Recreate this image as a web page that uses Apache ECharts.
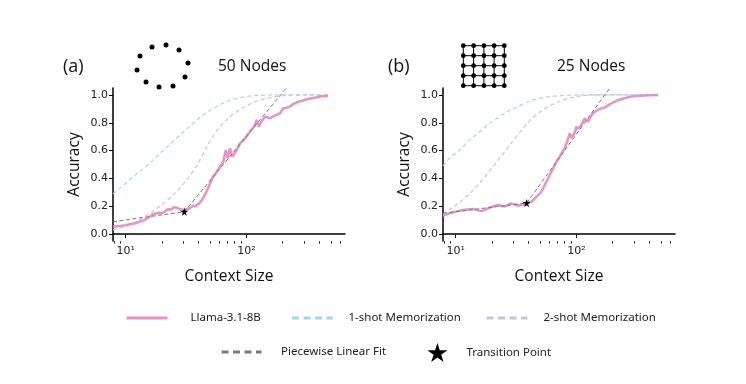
<!DOCTYPE html>
<html><head><meta charset="utf-8">
<script src="https://cdn.jsdelivr.net/npm/echarts@6/dist/echarts.min.js"></script>
<style>html,body{margin:0;padding:0;background:#fff}#c{width:746px;height:384px}</style>
</head><body><div id="c"></div>
<script>
// ---- tick labels ----
const xTickValues = [10, 100];
const xMinorTicks = [8, 9, 20, 30, 40, 50, 60, 70, 80, 90, 200, 300, 400, 500, 600];
const yTickValues = [0, 0.2, 0.4, 0.6, 0.8, 1.0];
const panelLetters = ['(a)', '(b)'];
const panelTitles = ['50 Nodes', '25 Nodes'];

// ---- panel (a): 50 nodes ----
const llamaA_x = [7.85, 8.9, 10, 10.8, 12, 13.1, 14, 14.8, 15.8, 16.8, 18, 19.1, 20, 21, 22.4, 23.2, 23.9, 24.7, 25.5, 26.3, 27.1, 28.5, 29.8, 31.2, 32.8, 34.5, 36.1, 37.8, 39.7, 41.7, 43.7, 45.8, 48.1, 50.4, 52.8, 55, 58, 60.4, 64.4, 67.4, 70, 73.1, 76.4, 79, 81.5, 85, 88.5, 93, 97.3, 102, 107, 111, 116, 121.6, 127, 131, 135.5, 142.6, 150, 157, 165, 172.7, 181, 190, 202.5, 212, 228.3, 240, 251, 268, 285.5, 305, 323.8, 345, 368, 392, 418, 445, 474];
const llamaA_y = [0.053, 0.058, 0.064, 0.07, 0.078, 0.089, 0.097, 0.108, 0.125, 0.142, 0.148, 0.153, 0.152, 0.16, 0.178, 0.172, 0.175, 0.19, 0.204, 0.19, 0.18, 0.178, 0.173, 0.176, 0.18, 0.19, 0.204, 0.2, 0.214, 0.232, 0.257, 0.29, 0.329, 0.37, 0.412, 0.43, 0.46, 0.484, 0.52, 0.604, 0.545, 0.617, 0.556, 0.575, 0.592, 0.62, 0.652, 0.67, 0.688, 0.71, 0.736, 0.755, 0.772, 0.82, 0.772, 0.8, 0.813, 0.844, 0.838, 0.832, 0.845, 0.851, 0.86, 0.868, 0.904, 0.905, 0.916, 0.93, 0.94, 0.95, 0.957, 0.965, 0.971, 0.976, 0.98, 0.985, 0.99, 0.991, 0.993];
const mem1A_x = [7.85, 9, 10.8, 13.1, 15.8, 19.2, 23.2, 28.1, 33.9, 41.3, 49.7, 60.4, 72.8, 88.4, 105, 130, 170, 474];
const mem1A_y = [0.29, 0.33, 0.39, 0.45, 0.51, 0.578, 0.645, 0.712, 0.775, 0.838, 0.888, 0.93, 0.96, 0.98, 0.991, 0.997, 1.0, 1.0];
const mem2A_x = [7.85, 10, 12, 14, 16, 19.2, 24.8, 28, 32, 38.7, 46.9, 56.7, 68.7, 83.2, 100.5, 117, 142, 171, 207, 303, 474];
const mem2A_y = [0.03, 0.055, 0.085, 0.118, 0.15, 0.2, 0.28, 0.33, 0.39, 0.49, 0.625, 0.74, 0.822, 0.88, 0.922, 0.95, 0.972, 0.986, 0.995, 1.0, 1.0];
const fitA_x = [7.85, 30.6, 214];
const fitA_y = [0.089, 0.16, 1.05];
const transA_x = [30.6];
const transA_y = [0.16];

// ---- panel (b): 25 nodes ----
const llamaB_x = [7.85, 8.6, 9.5, 10.5, 11.5, 12.6, 13.9, 15, 16.3, 17.6, 19.1, 20.7, 22.4, 24, 25.5, 27.2, 28.9, 30.8, 32.8, 35, 37.3, 40, 42.4, 44.5, 46.6, 49, 51.3, 53.8, 56.4, 59.2, 62.1, 65.2, 68.3, 72.8, 76, 80, 84, 88, 91, 93.7, 97, 100, 103, 106.5, 111, 117.1, 121, 124.8, 130, 137.3, 146, 156, 163, 171.5, 183, 195, 215, 236, 260, 285.5, 315, 346, 400, 474];
const llamaB_y = [0.132, 0.145, 0.156, 0.165, 0.173, 0.177, 0.18, 0.172, 0.165, 0.176, 0.189, 0.2, 0.209, 0.202, 0.197, 0.21, 0.221, 0.212, 0.204, 0.21, 0.214, 0.225, 0.232, 0.25, 0.268, 0.285, 0.304, 0.34, 0.376, 0.412, 0.448, 0.485, 0.52, 0.556, 0.585, 0.617, 0.665, 0.724, 0.69, 0.688, 0.73, 0.772, 0.755, 0.748, 0.79, 0.832, 0.82, 0.808, 0.84, 0.868, 0.885, 0.899, 0.905, 0.909, 0.925, 0.94, 0.958, 0.971, 0.98, 0.988, 0.992, 0.995, 0.998, 1.0];
const mem1B_x = [7.85, 9, 10.8, 13, 15.8, 19, 23.2, 28, 33.9, 41, 49.7, 60, 72.8, 100, 474];
const mem1B_y = [0.49, 0.55, 0.604, 0.675, 0.736, 0.795, 0.844, 0.89, 0.923, 0.955, 0.976, 0.988, 0.995, 1.0, 1.0];
const mem2B_x = [7.85, 9.2, 10.8, 13, 15.8, 19, 23.2, 28, 33.9, 41, 49.7, 60, 72.8, 96.5, 120, 150, 474];
const mem2B_y = [0.142, 0.185, 0.228, 0.29, 0.368, 0.452, 0.545, 0.638, 0.73, 0.815, 0.877, 0.922, 0.955, 0.985, 0.997, 1.0, 1.0];
const fitB_x = [7.85, 38.7, 189];
const fitB_y = [0.15, 0.223, 1.05];
const transB_x = [38.7];
const transB_y = [0.223];

const zip = (xs, ys) => xs.map((x, i) => [x, ys[i]]);
const SUP = {1: '\u00b9', 2: '\u00b2', 3: '\u00b3', 0: '\u2070'};
const STAR = 'path://M50,0 L61.2,34.5 L97.6,34.5 L68.2,55.9 L79.4,90.5 L50,69.1 L20.6,90.5 L31.8,55.9 L2.4,34.5 L38.8,34.5 Z';

const C_LLAMA = '#e98bc4', C_M1 = '#9fd8f3', C_M2 = '#c6c4e6', C_FIT = '#7a7a7a';
const LF = '"Open Sans", Lato, sans-serif';
const TF = '"DejaVu Sans", sans-serif';

const grids = [
  {left: 113, top: 88, width: 232, height: 153},
  {left: 443, top: 88, width: 232, height: 153}
];

function mainX(gi) {
  return {
    type: 'log', logBase: 10, gridIndex: gi, min: 7.85, max: 656, position: 'bottom',
    name: 'Context Size', nameLocation: 'middle', nameGap: 28,
    nameTextStyle: {fontFamily: LF, fontSize: 15.5, color: '#111'},
    axisLine: {show: true, lineStyle: {color: '#000', width: 1.5}},
    axisTick: {show: true, length: 4, customValues: xTickValues, lineStyle: {color: '#000', width: 1}},
    axisLabel: {customValues: xTickValues, fontFamily: TF, fontSize: 11, color: '#222', margin: 5,
      formatter: v => '10' + (SUP[Math.round(Math.log10(v))] || '')},
    splitLine: {show: false}, minorTick: {show: false}
  };
}
function minorX(gi) {
  return {
    type: 'log', logBase: 10, gridIndex: gi, min: 7.85, max: 656, position: 'bottom', offset: 0,
    axisLine: {show: false},
    axisTick: {show: true, length: 2.7, customValues: xMinorTicks, lineStyle: {color: '#000', width: 0.8}},
    axisLabel: {show: false}, splitLine: {show: false}
  };
}
function mainY(gi) {
  return {
    type: 'value', gridIndex: gi, min: -0.05, max: 1.05,
    name: 'Accuracy', nameLocation: 'middle', nameGap: 30,
    nameTextStyle: {fontFamily: LF, fontSize: 15.5, color: '#111'},
    axisLine: {show: true, lineStyle: {color: '#000', width: 1.5}},
    axisTick: {show: true, length: 4, customValues: yTickValues, lineStyle: {color: '#000', width: 1}},
    axisLabel: {customValues: yTickValues, fontFamily: TF, fontSize: 11, color: '#222', margin: 5,
      formatter: v => v.toFixed(1)},
    splitLine: {show: false}
  };
}

function panelSeries(xi, yi, llama, m1, m2, fit, tr) {
  return [
    {name: '1-shot Memorization', type: 'line', xAxisIndex: xi, yAxisIndex: yi, data: m1, symbol: 'none', smooth: 0.3,
      lineStyle: {color: C_M1, width: 1.2, type: [4, 3]}, itemStyle: {color: C_M1}, z: 2, silent: true},
    {name: '2-shot Memorization', type: 'line', xAxisIndex: xi, yAxisIndex: yi, data: m2, symbol: 'none', smooth: 0.3,
      lineStyle: {color: C_M2, width: 1.2, type: [4, 3]}, itemStyle: {color: C_M2}, z: 2, silent: true},
    {name: 'Llama-3.1-8B', type: 'line', xAxisIndex: xi, yAxisIndex: yi, data: llama, symbol: 'none',
      lineStyle: {color: C_LLAMA, width: 2.5, opacity: 0.95}, itemStyle: {color: C_LLAMA}, z: 3, silent: true},
    {name: 'Piecewise Linear Fit', type: 'line', xAxisIndex: xi, yAxisIndex: yi, data: fit, symbol: 'none',
      lineStyle: {color: C_FIT, width: 1, type: [4, 2.5]}, itemStyle: {color: C_FIT}, z: 4, silent: true},
    {name: 'Transition Point', type: 'scatter', xAxisIndex: xi, yAxisIndex: yi, data: tr, symbol: STAR, symbolSize: 8,
      itemStyle: {color: '#000', opacity: 1}, z: 5, silent: true}
  ];
}

const legendText = {fontFamily: '"Noto Sans", sans-serif', fontSize: 11.5, color: '#222'};
function leg(name, left, top, iw, ih, pad, ls, hideSymbol) {
  const item = {name: name};
  if (ls) item.lineStyle = ls;
  if (hideSymbol) item.itemStyle = {opacity: 0, color: 'rgba(0,0,0,0)', borderWidth: 0};
  else item.itemStyle = {color: '#000', opacity: 1};
  return {left: left, top: top, padding: 0, itemWidth: iw, itemHeight: ih, selectedMode: false,
    textStyle: Object.assign({padding: [0, 0, 0, pad]}, legendText), data: [item]};
}

// icons
const graphics = [];
const ring = [[152,47],[166,45],[179,50],[188,63],[185,77],[173,86],[159,87],[146,82],[137,70],[140,56]];
ring.forEach(p => graphics.push({type: 'circle', shape: {cx: p[0], cy: p[1], r: 2.5}, style: {fill: '#000'}}));
const gx = [463.3, 473.6, 483.9, 494.1, 504.3], gy = [45.7, 55.7, 65.7, 75.7, 85.7];
gy.forEach(y => graphics.push({type: 'line', shape: {x1: gx[0], y1: y, x2: gx[4], y2: y}, style: {stroke: '#000', lineWidth: 1}}));
gx.forEach(x => graphics.push({type: 'line', shape: {x1: x, y1: gy[0], x2: x, y2: gy[4]}, style: {stroke: '#000', lineWidth: 1}}));
gx.forEach(x => gy.forEach(y => graphics.push({type: 'circle', shape: {cx: x, cy: y, r: 2.4}, style: {fill: '#000'}})));
const txt = (t, x, y, fs) => ({type: 'text', x: x, y: y, style: {text: t, font: fs + 'px ' + LF, fill: '#111', verticalAlign: 'middle', align: 'left'}});
graphics.push(txt(panelLetters[0], 63, 67, 18), txt(panelTitles[0], 218, 67, 15.5));
graphics.push(txt(panelLetters[1], 388, 67, 18), txt(panelTitles[1], 557, 67, 15.5));

const option = {
  animation: false,
  backgroundColor: '#fff',
  grid: grids,
  xAxis: [mainX(0), mainX(1), minorX(0), minorX(1)],
  yAxis: [mainY(0), mainY(1)],
  legend: [
    leg('Llama-3.1-8B', 125, 312, 41, 14, 18, {width: 3}, true),
    leg('1-shot Memorization', 290.5, 312, 41, 14, 10.5, {width: 3, type: [7, 4.5]}, true),
    leg('2-shot Memorization', 485, 312, 41, 14, 11, {width: 3, type: [7, 4.5]}, true),
    leg('Piecewise Linear Fit', 220, 346, 40, 14, 14.5, {width: 3, type: [7, 4.5]}, true),
    leg('Transition Point', 427.4, 343, 20, 20, 14, null, false)
  ],
  graphic: graphics,
  series: [].concat(
    panelSeries(0, 0, zip(llamaA_x, llamaA_y), zip(mem1A_x, mem1A_y), zip(mem2A_x, mem2A_y), zip(fitA_x, fitA_y), zip(transA_x, transA_y)),
    panelSeries(1, 1, zip(llamaB_x, llamaB_y), zip(mem1B_x, mem1B_y), zip(mem2B_x, mem2B_y), zip(fitB_x, fitB_y), zip(transB_x, transB_y))
  )
};
const chart = echarts.init(document.getElementById('c'), null, {renderer: 'canvas'});
chart.setOption(option);
</script></body></html>
